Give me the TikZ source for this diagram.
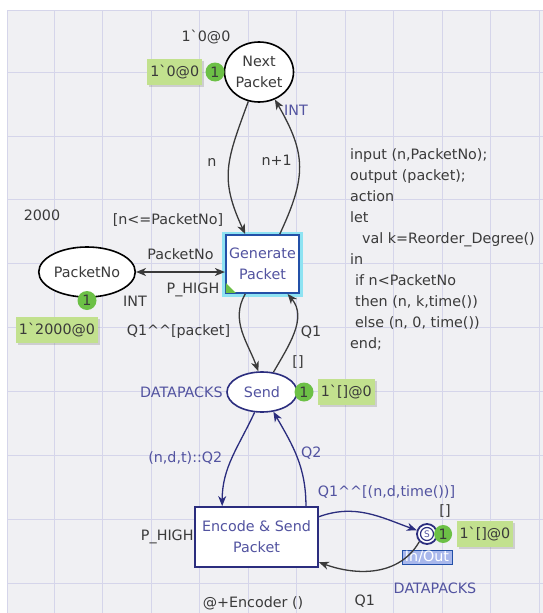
\documentclass[tikz,border=0pt]{standalone}
\usepackage{fontspec}
\setmainfont{DejaVu Sans}
\usetikzlibrary{positioning, arrows.meta, shapes.geometric, shadows}
\definecolor{cpnnavy}{HTML}{2B2D7E}
\definecolor{cpnink}{HTML}{5253A0}
\definecolor{cpnedge}{HTML}{2350A8}
\definecolor{cpngrey}{HTML}{3A3A3A}
\definecolor{cpnbg}{HTML}{F0F0F3}
\definecolor{cpngrid}{HTML}{D5D5EA}
\definecolor{tokgreen}{HTML}{6CC046}
\definecolor{markgreen}{HTML}{C2E18E}
\definecolor{glow}{HTML}{8EE3F2}
\definecolor{fusionfill}{HTML}{A9B8EC}
\newcommand\cpnfont{\fontsize{14.3}{21}\selectfont}
\tikzset{
    cpntip/.tip={Stealth[length=10pt, width=8pt, inset=3pt]},
    every node/.style={font=\cpnfont},
    place/.style={ellipse, draw, line width=1.6pt, fill=white, inner sep=1pt, align=center},
    trans/.style={rectangle, draw=cpnnavy, line width=1.8pt, fill=white, text=cpnink, align=center},
    token/.style={circle, fill=tokgreen, inner sep=0pt, minimum size=19pt, text=cpngrey},
    marking/.style={fill=markgreen, drop shadow={shadow xshift=2pt, shadow yshift=-2pt, opacity=0.3},
        text=cpngrey, inner sep=3pt, minimum height=26pt},
    lbl/.style={text=cpngrey},
    blbl/.style={text=cpnink},
    arc/.style={-cpntip, line width=1.3pt, draw=cpngrey}
}

\begin{document}
\begin{tikzpicture}[x=1pt, y=-1pt]
    \useasboundingbox (0,0) rectangle (543,613);
    \fill[white] (0,0) rectangle (543,613);
    \fill[cpnbg] (7,10) rectangle (543,613);
    \foreach \gx in {0,...,10}
        \draw[cpngrid, line width=0.8pt] ({54+48.5*\gx},10) -- ({54+48.5*\gx},613);
    \foreach \gy in {0,...,8}
        \draw[cpngrid, line width=0.8pt] (7,{72+63.9*\gy}) -- (543,{72+63.9*\gy});
    \draw[cpngrid, line width=0.8pt] (7,613) -- (7,10) -- (543,10);

    \node[place, minimum width=68pt, minimum height=60pt, text=cpngrey] (np) at (259,72) {Next\\Packet};
    \node[token, left=-1pt of np] (tk1) {1};
    \node[marking, left=3pt of tk1] (m1) {1\textasciigrave 0@0};
    \node[lbl] (i1) at (206,37) {1\textasciigrave 0@0};
    \node[blbl] (c1) at (296,110) {INT};

    \node[place, minimum width=95pt, minimum height=50pt, text=cpngrey] (pn) at (87,272) {PacketNo};
    \node[token, below=-7pt of pn] (tk2) {1};
    \node[marking] (m2) at (57,330) {1\textasciigrave 2000@0};
    \node[lbl] (i2) at (42,215) {2000};
    \node[lbl] (c2) at (135,301) {INT};

    \node[trans, draw=cpnedge, preaction={draw=glow, line width=7pt}, minimum width=69pt, minimum height=58pt]
        (gp) at (262.5,264) {Generate\\Packet};
    \fill[tokgreen] ([shift={(1,-1)}]gp.south west) -- ++(10,0) -- ++(-10,-10) -- cycle;
    \node[lbl] (g1) at (168,220) {[n<=PacketNo]};
    \node[lbl] (p1) at (193,290) {P\_HIGH};

    \node[place, draw=cpnnavy, text=cpnink, minimum width=70pt, minimum height=40pt] (sd) at (262,392) {Send};
    \node[blbl, left=0pt of sd] (c3) {DATAPACKS};
    \node[token, right=-3.5pt of sd] (tk3) {1};
    \node[marking, right=4pt of tk3] (m3) {1\textasciigrave[]@0};
    \node[lbl] (e3) at (298,362) {[]};

    \node[trans, minimum width=123pt, minimum height=60pt] (ep) at (256.5,537) {Encode \& Send\\Packet};
    \node[lbl, left=-3pt of ep] (p2) {P\_HIGH};
    \node[lbl] (t2) at (253,603) {@+Encoder ()};

    \node[circle, draw=cpnnavy, line width=1.8pt, minimum size=20pt, fill=white, inner sep=0pt] (fs) at (427,534) {};
    \node[circle, draw=cpnnavy, line width=1.2pt, minimum size=13pt, inner sep=0pt,
        font=\fontsize{9}{9}\selectfont, text=cpnink] (fsi) at (fs) {S};
    \node[token, minimum size=18pt, right=-4pt of fs] (tk4) {1};
    \node[marking, right=4pt of tk4] (m4) {1\textasciigrave[]@0};
    \node[lbl] (e4) at (445,511) {[]};
    \node[draw=cpnedge, fill=fusionfill, text=white, inner xsep=3pt, inner ysep=0pt, minimum height=14pt,
        line width=0.8pt] (io) at (427,557) {In/Out};
    \node[blbl] (c4) at (435,588) {DATAPACKS};

    \node[lbl, anchor=north west, align=left, inner sep=0pt] (code) at (350,148)
        {input (n,PacketNo);\\output (packet);\\action\\let\\\hspace*{12pt}val k=Reorder\_Degree()\\in\\
         \hspace*{5pt}if n<PacketNo\\\hspace*{5pt}then (n, k,time())\\\hspace*{5pt}else (n, 0, time())\\end;};

    \draw[arc] (np.250) to[out=250, in=115, looseness=1.2] node[pos=0.45, lbl, left=9pt] (a1) {n} (gp.120);
    \draw[arc] (gp.60) to[out=65, in=-60, looseness=1.2] node[pos=0.55, lbl, left=3pt] (a2) {n+1} (np.300);
    \draw[arc, cpntip-cpntip] (pn.east) -- node[lbl, above=8pt] (a3) {PacketNo} (pn.east -| gp.west);
    \draw[arc] (gp.240) to[out=240, in=110] node[pos=0.5, lbl, left=8pt] (a4) {Q1\textasciicircum\textasciicircum[packet]} (sd.100);
    \draw[arc] (sd.60) to[out=60, in=-50] node[pos=0.5, lbl, right=3pt] (a5) {Q1} (gp.310);
    \draw[arc, draw=cpnnavy] (sd.250) to[out=245, in=90] node[pos=0.5, blbl, left=6pt] (a6) {(n,d,t)::Q2} (ep.138);
    \draw[arc, draw=cpnnavy] (ep.32) to[out=90, in=-60] node[pos=0.55, blbl, right=2pt] (a7) {Q2} (sd.-60);
    \draw[arc, draw=cpnnavy] (ep.18) to[out=20, in=160] node[pos=0.7, blbl, above=17pt] (a8) {Q1\textasciicircum\textasciicircum[(n,d,time())]} (fs.160);
    \draw[arc] (fs.225) to[out=240, in=-20] node[pos=0.6, lbl, below=20pt] (a9) {Q1} (ep.-22);
\end{tikzpicture}
\end{document}
